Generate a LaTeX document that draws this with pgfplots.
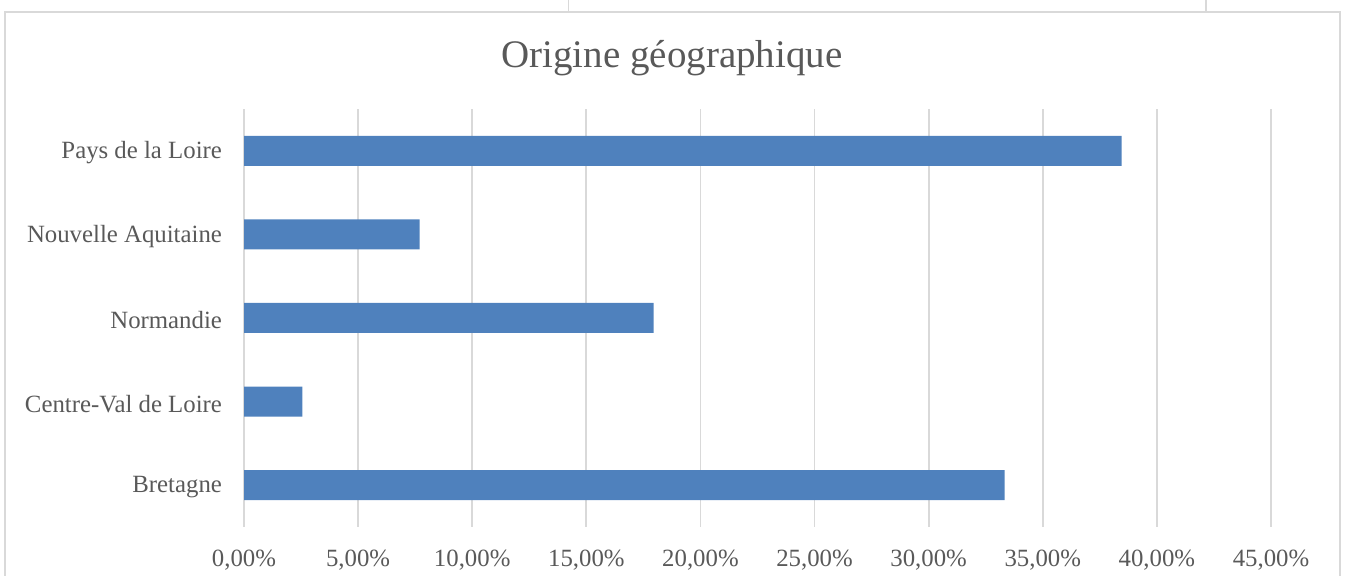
\documentclass[border=0pt]{standalone}
\usepackage{pgfplots}
\pgfplotsset{compat=1.18}
\usepackage{fontspec}
\setmainfont{Liberation Serif}
\definecolor{barblue}{HTML}{4F81BD}
\definecolor{txtgray}{HTML}{595959}
\definecolor{gridgray}{HTML}{D9D9D9}
\begin{document}
\begin{tikzpicture}
\useasboundingbox (0pt,0pt) rectangle (673pt,288pt);
% outer chart frame
\draw[gridgray,line width=0.9pt] (2.5pt,-2pt) -- (2.5pt,282pt) -- (670pt,282pt) -- (670pt,-2pt);
\draw[gridgray,line width=0.9pt] (284.2pt,290pt) -- (284.2pt,282pt);
\draw[gridgray,line width=0.9pt] (602.8pt,290pt) -- (602.8pt,282pt);
% title
\node[anchor=base,text=txtgray,font=\fontsize{19.5}{22}\selectfont] at (336pt,254pt) {Origine géographique};
\begin{axis}[
  at={(122pt,24.5pt)}, anchor=south west,
  scale only axis, width=513.5pt, height=209pt,
  xbar, bar width=15pt,
  xmin=0, xmax=45, ymin=-0.5, ymax=4.5,
  xtick={0,5,...,45},
  xticklabels={{0,00\%},{5,00\%},{10,00\%},{15,00\%},{20,00\%},{25,00\%},{30,00\%},{35,00\%},{40,00\%},{45,00\%}},
  ytick={0,1,2,3,4},
  yticklabels={Bretagne,Centre-Val de Loire,Normandie,Nouvelle Aquitaine,Pays de la Loire},
  xmajorgrids, major grid style={gridgray,line width=0.9pt},
  axis line style={draw=none},
  major tick length=0pt,
  tick label style={text=txtgray,font=\fontsize{12.4}{14}\selectfont},
  xticklabel style={anchor=north,yshift=-8pt},
  yticklabel style={anchor=east,xshift=-7.5pt,yshift=-1pt},
  clip=false,
]
\addplot[fill=barblue,draw=none] coordinates {
  (33.33,0) (2.56,1) (17.95,2) (7.69,3) (38.46,4)
};
\end{axis}
\end{tikzpicture}
\end{document}
